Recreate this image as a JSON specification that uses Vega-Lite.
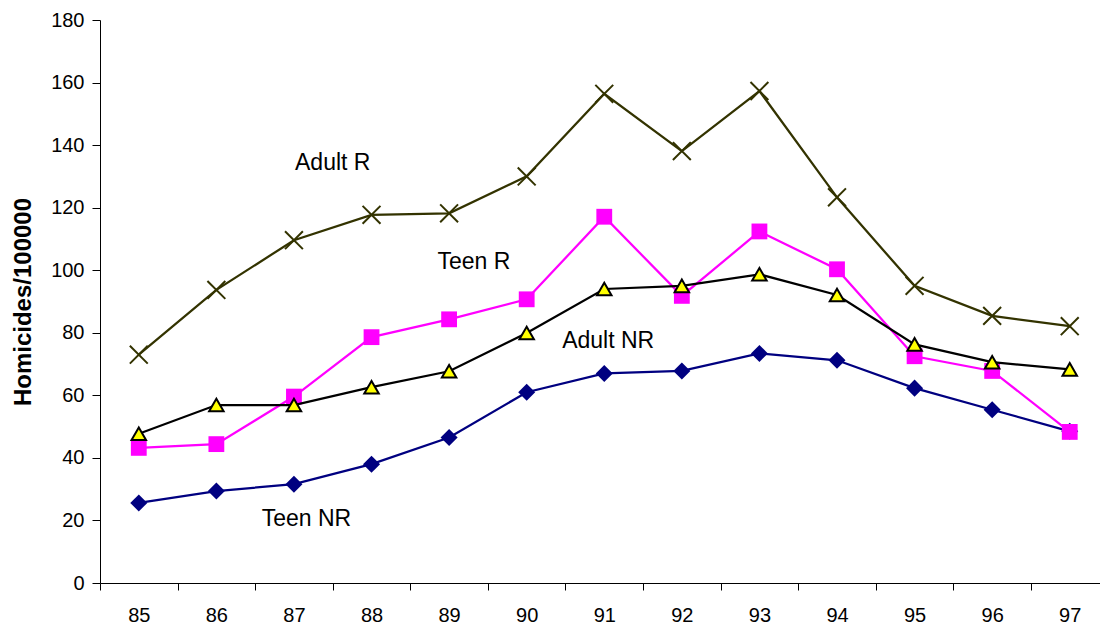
{
  "$schema": "https://vega.github.io/schema/vega-lite/v6.json",
  "width": 1000,
  "height": 563,
  "autosize": {"type": "none"},
  "padding": {"left": 100, "top": 20, "right": 0, "bottom": 43},
  "background": "white",
  "config": {
    "view": {"stroke": null},
    "font": "Liberation Sans",
    "axis": {
      "domainColor": "#000000",
      "tickColor": "#000000",
      "labelColor": "#000000",
      "labelFont": "Liberation Sans",
      "labelFontSize": 20,
      "grid": false,
      "domainWidth": 1,
      "tickWidth": 1
    }
  },
  "datasets": {
    "series": [
      {"series": "Teen NR", "year": 85, "value": 25.6},
      {"series": "Teen NR", "year": 86, "value": 29.4},
      {"series": "Teen NR", "year": 87, "value": 31.6},
      {"series": "Teen NR", "year": 88, "value": 38.0},
      {"series": "Teen NR", "year": 89, "value": 46.5},
      {"series": "Teen NR", "year": 90, "value": 61.0},
      {"series": "Teen NR", "year": 91, "value": 67.0},
      {"series": "Teen NR", "year": 92, "value": 67.8},
      {"series": "Teen NR", "year": 93, "value": 73.4},
      {"series": "Teen NR", "year": 94, "value": 71.2},
      {"series": "Teen NR", "year": 95, "value": 62.3},
      {"series": "Teen NR", "year": 96, "value": 55.4},
      {"series": "Teen NR", "year": 97, "value": 48.5},
      {"series": "Teen R", "year": 85, "value": 43.2},
      {"series": "Teen R", "year": 86, "value": 44.4},
      {"series": "Teen R", "year": 87, "value": 59.6},
      {"series": "Teen R", "year": 88, "value": 78.6},
      {"series": "Teen R", "year": 89, "value": 84.3},
      {"series": "Teen R", "year": 90, "value": 90.7},
      {"series": "Teen R", "year": 91, "value": 117.1},
      {"series": "Teen R", "year": 92, "value": 91.8},
      {"series": "Teen R", "year": 93, "value": 112.4},
      {"series": "Teen R", "year": 94, "value": 100.3},
      {"series": "Teen R", "year": 95, "value": 72.5},
      {"series": "Teen R", "year": 96, "value": 67.8},
      {"series": "Teen R", "year": 97, "value": 48.3},
      {"series": "Adult NR", "year": 85, "value": 47.7},
      {"series": "Adult NR", "year": 86, "value": 56.9},
      {"series": "Adult NR", "year": 87, "value": 56.9},
      {"series": "Adult NR", "year": 88, "value": 62.6},
      {"series": "Adult NR", "year": 89, "value": 67.7},
      {"series": "Adult NR", "year": 90, "value": 79.9},
      {"series": "Adult NR", "year": 91, "value": 94.0},
      {"series": "Adult NR", "year": 92, "value": 95.0},
      {"series": "Adult NR", "year": 93, "value": 98.7},
      {"series": "Adult NR", "year": 94, "value": 92.1},
      {"series": "Adult NR", "year": 95, "value": 76.3},
      {"series": "Adult NR", "year": 96, "value": 70.6},
      {"series": "Adult NR", "year": 97, "value": 68.3},
      {"series": "Adult R", "year": 85, "value": 73.0},
      {"series": "Adult R", "year": 86, "value": 93.7},
      {"series": "Adult R", "year": 87, "value": 109.6},
      {"series": "Adult R", "year": 88, "value": 117.7},
      {"series": "Adult R", "year": 89, "value": 118.2},
      {"series": "Adult R", "year": 90, "value": 130.0},
      {"series": "Adult R", "year": 91, "value": 156.4},
      {"series": "Adult R", "year": 92, "value": 138.1},
      {"series": "Adult R", "year": 93, "value": 157.3},
      {"series": "Adult R", "year": 94, "value": 123.3},
      {"series": "Adult R", "year": 95, "value": 95.0},
      {"series": "Adult R", "year": 96, "value": 85.4},
      {"series": "Adult R", "year": 97, "value": 82.1}
    ],
    "labels": [
      {"label": "Adult R", "x": 87.5, "y": 134.4},
      {"label": "Teen R", "x": 89.32, "y": 102.6},
      {"label": "Adult NR", "x": 91.05, "y": 77.4},
      {"label": "Teen NR", "x": 87.16, "y": 20.5}
    ]
  },
  "layer": [
    {
      "data": {"name": "series"},
      "transform": [{"filter": "datum.series === 'Teen NR'"}],
      "mark": {"type": "line", "color": "#000080", "strokeWidth": 2.25,
        "point": {"shape": "diamond", "size": 290, "filled": true, "fill": "#000080", "strokeWidth": 0}},
      "encoding": {
        "x": {"field": "year", "type": "quantitative",
          "scale": {"domain": [84.5, 97.39], "nice": false, "zero": false},
          "axis": {"values": [85, 86, 87, 88, 89, 90, 91, 92, 93, 94, 95, 96, 97], "format": "d",
            "tickOffset": -38.79, "labelOffset": 38.79, "tickSize": 7, "labelPadding": 15, "title": null, "labelFlush": false, "labelOverlap": false}},
        "y": {"field": "value", "type": "quantitative",
          "scale": {"domain": [0, 180], "nice": false},
          "axis": {"values": [0, 20, 40, 60, 80, 100, 120, 140, 160, 180], "tickSize": 8, "labelPadding": 8,
            "title": "Homicides/100000", "titleFont": "Liberation Sans", "titleFontSize": 24, "titleFontWeight": "bold",
            "titleColor": "#000000", "titleX": -70, "titleY": 281.5, "titleAngle": -90, "titleAlign": "center",
            "titleBaseline": "alphabetic"}}
      }
    },
    {
      "data": {"name": "series"},
      "transform": [{"filter": "datum.series === 'Teen R'"}],
      "mark": {"type": "line", "color": "#FF00FF", "strokeWidth": 2.25,
        "point": {"shape": "square", "size": 250, "filled": true, "fill": "#FF00FF", "strokeWidth": 0}},
      "encoding": {
        "x": {"field": "year", "type": "quantitative"},
        "y": {"field": "value", "type": "quantitative"}
      }
    },
    {
      "data": {"name": "series"},
      "transform": [{"filter": "datum.series === 'Adult NR'"}],
      "mark": {"type": "line", "color": "#000000", "strokeWidth": 2.25,
        "point": {"shape": "triangle-up", "size": 210, "filled": true, "fill": "#FFFF00", "stroke": "#000000", "strokeWidth": 2}},
      "encoding": {
        "x": {"field": "year", "type": "quantitative"},
        "y": {"field": "value", "type": "quantitative"}
      }
    },
    {
      "data": {"name": "series"},
      "transform": [{"filter": "datum.series === 'Adult R'"}],
      "mark": {"type": "line", "color": "#333300", "strokeWidth": 2.25,
        "point": {"shape": "M-1,-1L1,1M1,-1L-1,1", "size": 320, "filled": false, "stroke": "#333300", "strokeWidth": 2}},
      "encoding": {
        "x": {"field": "year", "type": "quantitative"},
        "y": {"field": "value", "type": "quantitative"}
      }
    },
    {
      "data": {"name": "labels"},
      "mark": {"type": "text", "font": "Liberation Sans", "fontSize": 23, "color": "#000000", "align": "center", "baseline": "middle"},
      "encoding": {
        "x": {"field": "x", "type": "quantitative"},
        "y": {"field": "y", "type": "quantitative"},
        "text": {"field": "label"}
      }
    }
  ]
}
